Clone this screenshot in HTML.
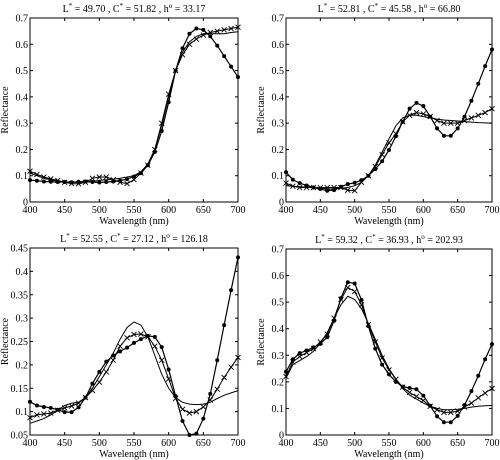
<!DOCTYPE html>
<html><head><meta charset="utf-8"><style>
html,body{margin:0;padding:0;background:#fff;}
svg{display:block;font-family:"Liberation Serif",serif;}
</style></head><body>
<svg id="c" width="500" height="460" xmlns="http://www.w3.org/2000/svg"></svg>
<script>
const wavelengths=[400,410,420,430,440,450,460,470,480,490,500,510,520,530,540,550,560,570,580,590,600,610,620,630,640,650,660,670,680,690,700];
const xTicks=[400,450,500,550,600,650,700];
const titleL=["49.70","52.81","52.55","59.32"];
const titleC=["51.82","45.58","27.12","36.93"];
const titleH=["33.17","66.80","126.18","202.93"];
const p1Dots=[.083,.081,.078,.077,.076,.076,.075,.077,.078,.076,.074,.076,.078,.081,.087,.097,.11,.14,.19,.27,.38,.50,.585,.64,.66,.655,.63,.595,.555,.515,.475];
const p1Cross=[.117,.105,.095,.088,.082,.075,.07,.069,.075,.09,.095,.095,.085,.075,.07,.085,.11,.14,.2,.3,.41,.5,.56,.6,.62,.635,.645,.65,.655,.66,.665];
const p1Line=[.11,.1,.09,.085,.08,.077,.075,.074,.075,.078,.082,.085,.087,.09,.095,.1,.115,.145,.2,.29,.4,.5,.57,.61,.63,.64,.64,.64,.64,.645,.648];
const p2Dots=[.113,.085,.072,.063,.055,.05,.043,.045,.058,.068,.073,.083,.1,.125,.155,.198,.25,.305,.355,.377,.365,.325,.28,.252,.252,.28,.325,.385,.45,.517,.58];
const p2Cross=[.072,.06,.055,.055,.055,.055,.055,.055,.055,.045,.043,.075,.1,.135,.18,.225,.26,.305,.33,.34,.335,.325,.31,.3,.3,.3,.31,.32,.33,.34,.355];
const p2Line=[.062,.06,.058,.056,.054,.052,.05,.05,.052,.055,.062,.075,.1,.14,.19,.24,.29,.32,.33,.33,.325,.32,.315,.312,.31,.308,.306,.304,.302,.301,.3];
const p3Dots=[.121,.113,.11,.108,.104,.099,.099,.109,.13,.16,.185,.207,.22,.229,.237,.247,.255,.262,.26,.238,.19,.133,.08,.05,.053,.085,.138,.21,.285,.36,.43];
const p3Cross=[.087,.093,.095,.097,.103,.108,.112,.118,.13,.145,.163,.185,.21,.24,.258,.265,.266,.26,.24,.21,.17,.128,.105,.097,.1,.11,.125,.148,.173,.195,.216];
const p3Line=[.075,.08,.085,.093,.103,.113,.118,.12,.13,.15,.175,.2,.225,.255,.28,.292,.285,.26,.22,.18,.15,.13,.12,.116,.115,.116,.12,.128,.135,.14,.145];
const p4Dots=[.238,.285,.308,.318,.33,.343,.368,.43,.515,.575,.57,.508,.41,.325,.265,.228,.2,.182,.177,.172,.148,.11,.07,.048,.048,.072,.113,.165,.223,.285,.342];
const p4Cross=[.22,.275,.295,.31,.325,.35,.38,.44,.51,.555,.54,.49,.415,.35,.29,.245,.21,.18,.16,.145,.13,.108,.095,.085,.085,.09,.105,.12,.14,.158,.175];
const p4Line=[.215,.265,.28,.295,.315,.345,.385,.44,.49,.522,.51,.475,.42,.36,.3,.25,.21,.175,.15,.135,.12,.108,.1,.095,.095,.097,.1,.105,.108,.11,.111];
const yTicksA=[0,0.1,0.2,0.3,0.4,0.5,0.6,0.7];
const yTicksB=[0.05,0.1,0.15,0.2,0.25,0.3,0.35,0.4,0.45];

const NS="http://www.w3.org/2000/svg";
const svg=document.getElementById('c');
function mk(tag,attrs,parent){const e=document.createElementNS(NS,tag);for(const k in attrs)e.setAttribute(k,attrs[k]);(parent||svg).appendChild(e);return e;}
function tsp(parent,txt,sup){const t=mk('tspan',sup?{dy:-4,'font-size':7}:{},parent);t.textContent=txt;return t;}

const panels=[
 {L:30,R:238,T:18,B:202,yt:yTicksA,d:p1Dots,c:p1Cross,l:p1Line},
 {L:286,R:492,T:18,B:202,yt:yTicksA,d:p2Dots,c:p2Cross,l:p2Line},
 {L:30,R:238,T:248,B:435,yt:yTicksB,d:p3Dots,c:p3Cross,l:p3Line},
 {L:286,R:492,T:249,B:435,yt:yTicksA,d:p4Dots,c:p4Cross,l:p4Line}
];
panels.forEach((p,i)=>{
 const g=mk('g',{});
 
 
 const y0=p.yt[0],y1=p.yt[p.yt.length-1];
 const X=v=>p.L+(v-400)/300*(p.R-p.L);
 const Y=v=>p.B-(v-y0)/(y1-y0)*(p.B-p.T);
 const fr=mk('rect',{x:p.L,y:p.T,width:p.R-p.L,height:p.B-p.T,fill:'none',stroke:'#000','stroke-width':1},g);
 
 
 xTicks.forEach(t=>{
  mk('line',{x1:X(t),x2:X(t),y1:p.B,y2:p.B-3,stroke:'#000'},g);
  mk('line',{x1:X(t),x2:X(t),y1:p.T,y2:p.T+3,stroke:'#000'},g);
  const tx=mk('text',{x:X(t),y:p.B+11,'font-size':10,'text-anchor':'middle'},g);tx.textContent=t;
  
  
 });
 p.yt.forEach(t=>{
  mk('line',{x1:p.L,x2:p.L+3,y1:Y(t),y2:Y(t),stroke:'#000'},g);
  mk('line',{x1:p.R,x2:p.R-3,y1:Y(t),y2:Y(t),stroke:'#000'},g);
  const tx=mk('text',{x:p.L-2,y:Y(t)+3.5,'font-size':10,'text-anchor':'end'},g);tx.textContent=String(+t.toFixed(2));
  
  
 });
 const ti=mk('text',{x:(p.L+p.R)/2,y:p.T-6,'font-size':10,'text-anchor':'middle'},g);
 tsp(ti,'L');tsp(ti,'*',true);
 const a=tsp(ti,' = '+titleL[i]+' , C');a.setAttribute('dy',4);
 tsp(ti,'*',true);
 const b=tsp(ti,' = '+titleC[i]+' , h');b.setAttribute('dy',4);
 tsp(ti,'o',true);
 const c=tsp(ti,' = '+titleH[i]);c.setAttribute('dy',4);
 
 
 const xl=mk('text',{x:(p.L+p.R)/2,y:p.B+22,'font-size':10,'text-anchor':'middle'},g);xl.textContent='Wavelength (nm)';
 
 
 const yx=p.L-22,yy=(p.T+p.B)/2;
 const yl=mk('text',{x:yx,y:yy,'font-size':10,'text-anchor':'middle',transform:`rotate(-90 ${yx} ${yy})`},g);yl.textContent='Reflectance';
 
 
 const pts=a=>a.map((v,k)=>X(wavelengths[k]).toFixed(1)+','+Y(v).toFixed(1)).join(' ');
 const ln=mk('polyline',{points:pts(p.l),fill:'none',stroke:'#000','stroke-width':1},g);
 
 
 const cl=mk('polyline',{points:pts(p.c),fill:'none',stroke:'#000','stroke-width':1},g);
 
 
 p.c.forEach((v,k)=>{const x=X(wavelengths[k]),y=Y(v);
  const m=mk('path',{d:`M${x-2.5},${y-2.5}L${x+2.5},${y+2.5}M${x-2.5},${y+2.5}L${x+2.5},${y-2.5}`,stroke:'#000','stroke-width':0.9},g);
  
  });
 const dl=mk('polyline',{points:pts(p.d),fill:'none',stroke:'#000','stroke-width':1.2},g);
 
 
 p.d.forEach((v,k)=>{
  const m=mk('circle',{cx:X(wavelengths[k]),cy:Y(v),r:2,fill:'#000'},g);
  
  });
});
</script>
</body></html>
